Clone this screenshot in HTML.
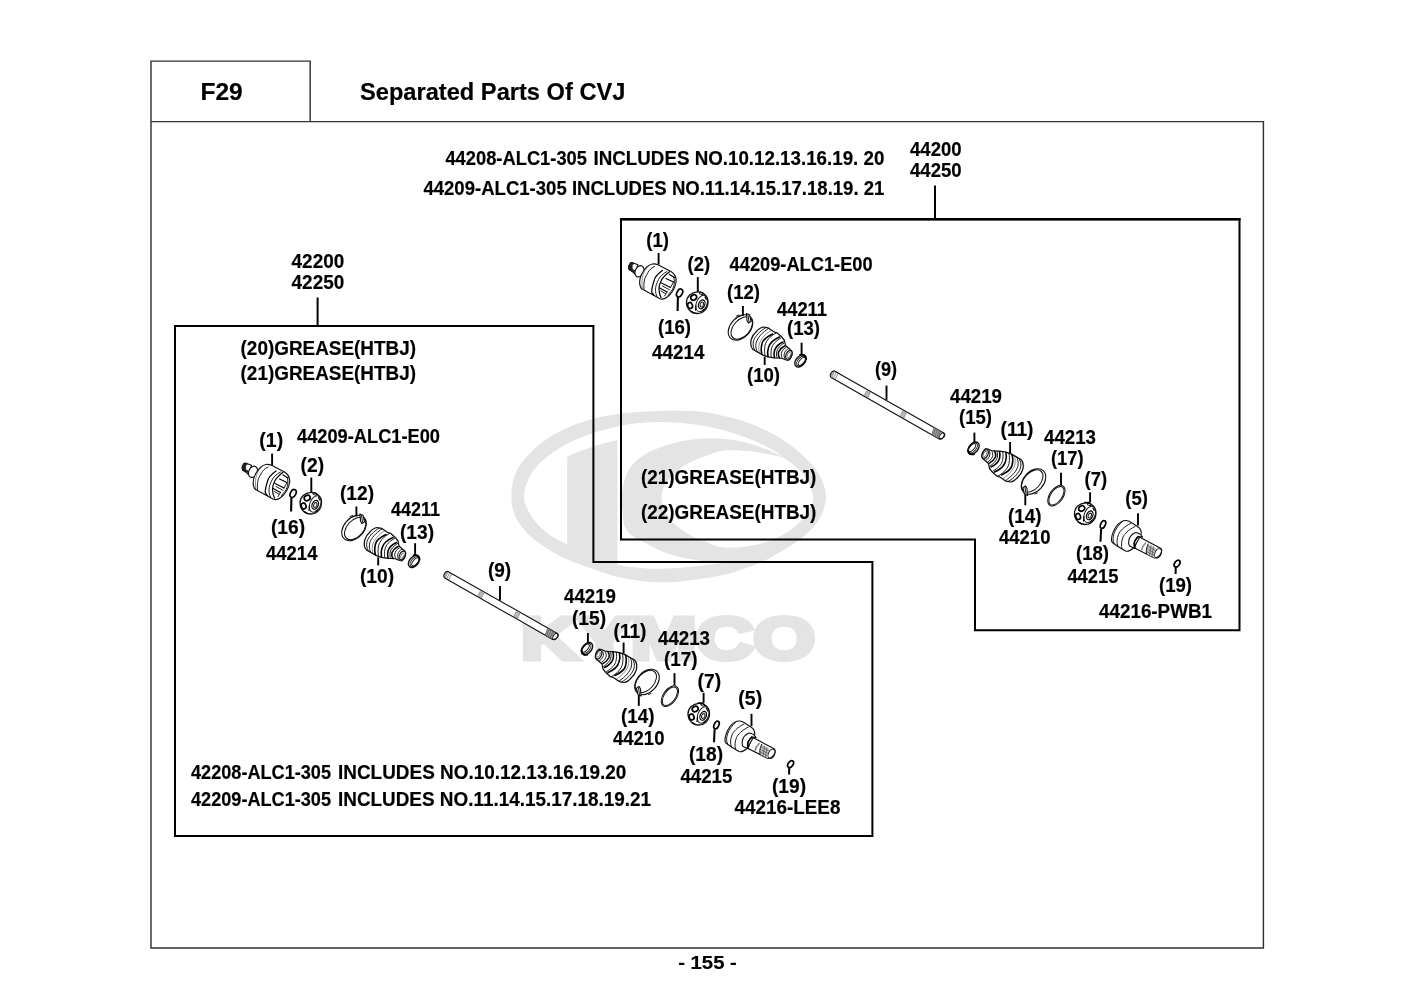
<!DOCTYPE html>
<html lang="en">
<head>
<meta charset="utf-8">
<title>F29 Separated Parts Of CVJ</title>
<style>
html,body{margin:0;padding:0;background:#fff;}
body{width:1415px;height:1000px;overflow:hidden;}
svg{display:block;}
text{font-family:"Liberation Sans",Arial,Helvetica,sans-serif;font-weight:bold;fill:#000;stroke:#000;stroke-width:0.18px;}
.frame{fill:none;stroke:#333;stroke-width:1.45;}
.box{fill:none;stroke:#000;stroke-linejoin:miter;}
.tk line{stroke:#000;}
.p{fill:#fff;stroke:#111;stroke-width:1.15;stroke-linejoin:round;stroke-linecap:round;}
.l{fill:none;stroke:#111;stroke-width:0.95;stroke-linejoin:round;stroke-linecap:round;}
.h{fill:none;stroke:#000;stroke-width:1.2;stroke-linejoin:round;stroke-linecap:round;}
.hh{fill:none;stroke:#000;stroke-width:1.6;stroke-linejoin:round;stroke-linecap:round;}
.t{fill:none;stroke:#333;stroke-width:0.55;stroke-linecap:round;}
.d{fill:#222;stroke:#111;stroke-width:0.8;}
.g{fill:#bbb;stroke:#666;stroke-width:0.5;}
</style>
</head>
<body>
<svg width="1415" height="1000" viewBox="0 0 1415 1000">
<rect width="1415" height="1000" fill="#fff"/>
<!-- KYMCO watermark -->
<g fill="#e4e4e4" stroke="none">
<path fill-rule="evenodd" d="M511.4 497.0C511.5 492.0 511.7 485.0 513.5 479.2C515.3 473.4 517.5 468.1 522.0 462.2C526.5 456.3 533.7 449.1 540.3 443.8C546.9 438.5 553.2 434.4 561.5 430.4C569.8 426.4 580.4 422.5 589.8 419.8C599.2 417.1 608.6 415.5 618.0 414.1C627.4 412.7 636.9 412.2 646.3 411.6C655.7 411.1 664.8 410.7 674.6 410.8C684.4 410.9 694.3 410.7 705.0 412.2C715.7 413.7 728.5 416.6 738.9 419.8C749.3 423.0 759.0 427.1 767.2 431.1C775.5 435.1 782.5 439.8 788.4 443.8C794.3 447.8 797.8 450.6 802.5 455.1C807.2 459.6 813.2 465.8 816.7 470.7C820.2 475.6 822.2 480.4 823.7 484.8C825.2 489.2 825.9 492.9 825.9 497.0C825.9 501.1 825.2 504.7 823.7 509.1C822.2 513.5 820.2 518.6 816.7 523.3C813.2 528.0 808.4 532.7 802.5 537.4C796.6 542.1 788.4 547.3 781.3 551.5C774.2 555.7 768.3 559.3 760.1 562.8C751.9 566.3 741.3 570.1 731.9 572.7C722.5 575.3 713.0 577.1 703.6 578.6C694.2 580.1 684.5 581.4 675.3 581.9C666.1 582.4 657.5 582.4 648.3 581.7C639.1 581.0 627.4 579.1 620.0 577.6C612.6 576.1 611.3 575.2 603.9 572.7C596.5 570.2 583.9 566.1 575.7 562.8C567.5 559.5 561.6 557.0 554.5 553.0C547.4 549.0 539.2 543.8 533.3 538.8C527.4 533.8 522.5 528.2 519.1 523.3C515.7 518.3 514.1 513.5 512.8 509.1C511.5 504.7 511.3 502.0 511.4 497.0ZM782.8 457.2C781.4 456.1 779.2 453.7 774.3 450.9C769.3 448.1 761.4 443.7 753.1 440.3C744.9 436.9 734.2 433.0 724.8 430.4C715.4 427.8 705.9 426.1 696.5 424.7C687.1 423.3 676.7 422.5 668.3 422.2C659.9 421.9 654.0 422.1 646.3 422.6C638.6 423.1 631.2 423.6 622.3 425.4C613.3 427.2 601.5 430.2 592.6 433.2C583.7 436.1 576.1 439.2 568.6 443.1C561.1 447.0 553.3 451.9 547.4 456.5C541.5 461.1 536.8 466.0 533.3 470.7C529.8 475.4 527.8 480.4 526.2 484.8C524.7 489.2 524.0 493.4 524.0 497.0C524.0 500.6 524.7 502.6 526.2 506.3C527.8 510.0 529.8 514.5 533.3 519.0C536.8 523.5 541.8 529.0 547.4 533.2C553.0 537.5 560.9 541.3 567.2 544.5C573.5 547.7 579.5 550.2 585.0 552.5C590.5 554.8 594.2 556.4 600.0 558.5C605.8 560.6 612.0 563.6 620.0 565.3C628.0 567.0 638.9 568.1 648.3 568.6C657.7 569.1 667.1 568.7 676.5 568.1C685.9 567.5 696.5 566.2 704.8 565.3C713.0 564.4 722.5 563.0 726.0 562.6C722.5 562.4 711.9 562.1 704.8 561.3C697.7 560.5 690.7 559.4 683.6 557.8C676.5 556.2 669.5 554.3 662.4 551.5C655.3 548.7 646.6 543.7 641.2 540.8C635.8 537.9 632.8 536.6 630.0 534.0C627.2 531.4 625.4 528.7 624.2 525.0C623.0 521.3 623.0 516.7 622.6 512.0C622.2 507.3 621.5 502.3 621.8 497.0C622.1 491.7 622.8 485.3 624.5 480.0C626.2 474.7 628.6 469.4 632.2 465.0C635.8 460.6 641.7 456.4 646.3 453.5C650.9 450.6 654.0 449.6 660.0 447.5C666.0 445.4 673.9 442.6 682.4 441.0C690.9 439.4 701.3 438.2 710.7 438.2C720.1 438.2 729.5 439.1 738.9 441.0C748.3 442.9 759.9 446.8 767.2 449.5C774.5 452.2 780.2 455.9 782.8 457.2ZM782.8 457.2C784.9 458.7 791.5 462.7 795.5 466.4C799.5 470.1 803.9 474.1 806.8 479.2C809.7 484.3 812.6 492.0 813.1 497.0C813.6 502.0 811.4 505.4 809.6 509.1C807.8 512.8 805.8 515.4 802.5 519.0C799.2 522.6 794.6 527.2 790.0 530.5C785.4 533.8 779.8 536.4 775.0 538.5C770.2 540.6 766.1 542.0 761.3 543.4C756.5 544.8 750.7 545.9 746.0 546.6C741.3 547.3 737.3 547.5 733.0 547.6C728.7 547.7 724.7 548.0 720.0 547.0C715.3 546.0 709.8 543.5 704.8 541.5C699.8 539.5 694.1 537.2 690.0 535.0C685.9 532.8 682.8 530.6 680.0 528.5C677.2 526.4 675.2 524.8 673.0 522.5C670.8 520.2 668.7 517.2 667.0 514.5C665.3 511.8 663.9 508.9 663.0 506.0C662.1 503.1 661.3 500.3 661.5 497.0C661.7 493.7 663.0 488.7 664.0 486.0C665.0 483.3 665.8 483.0 667.5 481.0C669.2 479.0 671.6 476.3 674.0 474.0C676.4 471.7 679.0 469.1 682.0 467.0C685.0 464.9 688.3 463.2 692.0 461.5C695.7 459.8 698.5 458.3 704.0 456.5C709.5 454.7 716.6 451.3 724.8 450.5C733.0 449.7 743.4 450.5 753.1 451.6C762.8 452.7 777.8 456.3 782.8 457.2Z"/>
<path d="M567.2 456.5C583 449.5 600 444 617.4 440.3V566.5L567.2 547Z"/>
<text x="521" y="658.6" font-size="58.5" textLength="294" lengthAdjust="spacingAndGlyphs" style="fill:#e4e4e4;stroke:#e4e4e4;stroke-width:5;stroke-linejoin:miter;">KYMCO</text>
</g>

<!-- page frame -->
<path class="frame" d="M151 948V61.1H310.2V121.6"/>
<path class="frame" d="M151 121.6H1263.4V948H150.3"/>
<!-- left assembly box -->
<path class="box" stroke-width="2" d="M175 326H593.4V562H872.4V836.1H175Z"/>
<!-- right assembly box -->
<path class="box" stroke-width="2" d="M621 219.2H1239.5V630.2H975V539.6H621Z"/>
<path class="box" stroke-width="2.5" d="M619.9 219.2H1240.6"/>
<defs>
<g id="asm">
<!-- joint (1) -->
<g>
  <path class="p" d="M245.5 463L251.5 465.3L248.5 474.5L246.5 472.5L242.5 470C241.5 468 243 463.5 245.5 463Z"/>
  <path class="d" d="M244 463L242 466.5L242.5 470L246.5 472.5L248.7 471.5L245.6 469.5L245.6 465.5L247.5 464Z"/>
  <ellipse class="p" cx="253" cy="471.8" rx="4.2" ry="5.9" transform="rotate(25 253 471.8)"/>
  <path class="p" d="M266 464.5C262 465 258 469.5 255.5 474C253.5 478 252.8 483 253.5 486C254 488 255 489.5 256.5 490L273 499C276 500.5 280 498.5 283 495.5C286 492.5 288.5 488 289.5 483C290.3 478 288.5 474.5 284.5 472L272 465.5C270 464.7 268 464.3 266 464.5Z"/>
  <path class="t" d="M262.5 465.8C259.5 468.5 257.8 471.5 256.8 474.5C255.5 478 255 484 255.8 488.5"/>
  <path class="l" d="M268 467C264.5 468.5 262.5 471 261.5 473C259.5 476.5 258 479 258 480.5C257.3 483 257.3 486 257.5 489.5"/>
  <path class="h" d="M276 471C271 474.5 268 478 267.5 481.5C266 486 265 490 265.3 493L267.5 495.7"/>
  <path class="l" d="M280.5 472C276 474.5 273.5 477 272 480C270 484 269 487 269 490C269 493 269.5 495 270.5 496.8"/>
  <path class="h" d="M283 472.3C279 475.5 276.5 478 275 480.5C273.5 483.5 272.5 486 272.5 489C272.5 493 273 495.5 274.5 498"/>
  <path class="l" d="M287.3 478C288.3 480.5 288 484.5 287 487.5C286 490.5 284 493 281.5 495.3"/>
  <path class="h" d="M283 475L288 478M279.5 479L287 482.5M275 483.5L284 488M273.2 488.5L280.5 492.5"/>
  <path class="l" d="M287 482.5L284 488M280.5 492.5L278 496.5M276 486.5L283 490.3M274.5 491.5L279 494.2"/>
</g>
<!-- pin (16) -->
<g>
  <ellipse cx="293.1" cy="493.5" rx="2.7" ry="4.2" transform="rotate(27 293.1 493.5)" fill="none" stroke="#000" stroke-width="1.7"/>
  <path d="M291.4 497.5L291.1 511.6" fill="none" stroke="#000" stroke-width="2.1"/>
</g>
<!-- cage (2); re-used for (7) -->
<g id="cage">
  <path class="p" style="stroke-width:1.3" d="M311 492.4C316.5 492 321.5 496.5 321.5 502.5C321.5 509 317 514 311 514C305 514 300 509.5 300 503C300 497 305 492.8 311 492.4Z"/>
  <ellipse class="l" cx="315.2" cy="504" rx="5.3" ry="8.6" transform="rotate(24 315.2 504)"/>
  <ellipse class="h" cx="315.2" cy="504.8" rx="3" ry="4.6" transform="rotate(24 315.2 504.8)"/>
  <ellipse class="l" cx="315.3" cy="505" rx="1.5" ry="2.5" transform="rotate(24 315.3 505)"/>
  <ellipse class="h" cx="307.2" cy="498" rx="3.1" ry="2.5" transform="rotate(-30 307.2 498)" style="stroke-width:1.7"/>
  <ellipse class="h" cx="303.6" cy="506" rx="2.4" ry="3" transform="rotate(-20 303.6 506)" style="stroke-width:1.7"/>
  <ellipse class="l" cx="314.8" cy="493.8" rx="2" ry="1.1" transform="rotate(15 314.8 493.8)"/>
  <path class="h" d="M305 512L307.5 513.6M316 511.2L317.6 509.8M309.5 506L309 510.5M318.5 497.5L319.8 500"/>
</g>
<use href="#cage" transform="translate(388,211)"/>
<path d="M703.6 703H697.6" fill="none" stroke="#000" stroke-width="1.4"/>
<!-- clamp (12), boot (10), ring (13): re-used rotated 180deg for (14),(11),(15) -->
<g id="cbr">
  <ellipse class="l" cx="354" cy="528" rx="14.6" ry="10" transform="rotate(-48 354 528)" style="stroke-width:1.1"/>
  <ellipse class="l" cx="355.2" cy="528.5" rx="13.1" ry="8.2" transform="rotate(-48 355.2 528.5)" style="stroke-width:1.05"/>
  <path class="p" d="M359.8 514L363 515.3L364.6 521.8L362 523.6L360.5 521L360.2 516.5Z"/>
  <path class="l" d="M350 516.5L352.5 515.5M361.5 515.5L362.5 522"/>
  <path class="p" style="stroke-width:1.25" d="M377 527.5L381.5 528.3L388 532.7L390.5 533.3L395 537.2L398 541L399 546L405 551.2C406.5 553 405.5 558.5 402 560.8L399.5 560.5L396 559L393 558.5L388 558.3L381.5 557.3L376.5 555.6L366.5 550C364.5 548 363.8 544 364.75 540C365.8 536.5 367.5 534 369.5 532.5C372 529.5 374.5 527.8 377 527.5Z"/>
  <path class="l" d="M379.5 528C373 531.5 368.5 537 367 541.5C366 545.5 367 549 368.5 551"/>
  <path class="l" d="M382 529C375.5 533 371 538.5 369.7 543C368.8 547 369.5 550.5 371 552.5"/>
  <path class="t" d="M384.5 531C378.5 534.5 374 540 372.7 544.5C371.8 548.5 372.3 552 373.2 554"/>
  <path class="hh" d="M386 534.5C380 537.5 376 541 375.5 544C374.5 548 374.5 552 375.5 555"/>
  <path class="l" d="M389.5 533.5C383 537 379.5 541.5 378.5 546C377.8 550 378 553.5 378.5 556.3"/>
  <path class="hh" d="M393 537.5C387 540 383 544.5 382 548C381 551 381 554.5 381.5 557"/>
  <path class="l" d="M394.5 538.5C389 541.5 386 545 385 549C384.3 552 384.3 555 384.8 557.8"/>
  <path class="hh" d="M396.5 542.5C392 544.5 389 548 388 551C387.3 553.5 387.5 556 388 558"/>
  <path class="l" d="M397.5 543.5C393.5 546 391 549 390.2 552C389.8 554.5 390 556.8 390.5 558.5"/>
  <path class="hh" d="M398 546.5C395 548 393 550.5 392 552.5C391.5 554.5 392 557 393 558.5"/>
  <path class="l" d="M399.5 547.8C396.5 549.5 395 552 394.8 554C394.6 556 395.2 558 396 559"/>
  <path class="l" d="M401.5 549.2C398.5 551 397.3 554 397.6 556.5C397.8 558 398.5 559.5 399.5 560.3"/>
  <ellipse class="p" cx="402.3" cy="555.4" rx="2.7" ry="4.5" transform="rotate(25 402.3 555.4)"/>
  <ellipse class="t" cx="402.5" cy="555.6" rx="1.5" ry="2.9" transform="rotate(25 402.5 555.6)"/>
  <ellipse class="p" cx="414" cy="561.4" rx="7" ry="4.5" transform="rotate(-50 414 561.4)" style="stroke-width:1.4"/>
  <ellipse class="l" cx="414.7" cy="561.7" rx="5.9" ry="3.4" transform="rotate(-50 414.7 561.7)"/>
  <ellipse class="l" cx="415.3" cy="561.9" rx="4.8" ry="2.2" transform="rotate(-50 415.3 561.9)"/>
  <path class="hh" d="M413.5 555.3C416.5 554.5 419.3 556 419.6 559.5"/>
</g>
<use href="#cbr" transform="rotate(180 500.5 605)"/>
<!-- shaft (9) -->
<g>
  <path class="p" d="M447.9 571.4L557.3 633.4C559.6 635.2 557.3 639.8 552.7 639.4L444.7 577.9C442.4 576 445.2 571 447.9 571.4Z"/>
  <ellipse class="l" cx="555.2" cy="636.5" rx="2" ry="3.5" transform="rotate(30 555.2 636.5)"/>
  <path class="t" d="M449.8 572.5L446.8 578.8M451.6 573.4L448.8 579.8M448 571.8L445.4 577.8M446.4 572.4L444.6 576.5"/>
  <path class="g" d="M479.9 591.5L483.8 593.3L481.5 597.9L477.8 595.8Z"/>
  <path class="g" d="M515.9 611.7L519.8 613.7L517.6 618.3L513.9 616.1Z"/>
  <path class="d" d="M547.6 628.2L554 631.9L551.9 638.7L545.3 635.3Z" style="fill:#a5a5a5;stroke:#555"/>
  <path class="t" d="M549 629.3L546.7 635.7M550.8 630.4L548.5 636.8M552.7 631.3L550.4 637.8"/>
</g>
<!-- ring (17) -->
<g>
  <ellipse class="l" cx="669.9" cy="696.2" rx="11.7" ry="6.7" transform="rotate(-55 669.9 696.2)"/>
  <ellipse class="l" cx="669.9" cy="696.2" rx="10.6" ry="5.6" transform="rotate(-55 669.9 696.2)"/>
</g>
<!-- pin (18) -->
<g>
  <ellipse cx="716.5" cy="725.0" rx="2.3" ry="4.1" transform="rotate(24 716.5 725.0)" fill="none" stroke="#000" stroke-width="1.7"/>
  <path d="M714.6 729.4L714.0 742.2" fill="none" stroke="#000" stroke-width="2"/>
</g>
<!-- joint (5) -->
<g>
  <path class="p" d="M752 737L774.5 749C776 751 775 757 768 758.5L748 748.5Z"/>
  <ellipse class="l" cx="771.5" cy="753.9" rx="3.1" ry="5" transform="rotate(25 771.5 753.9)"/>
  <path d="M762 744.6C760 748.5 759.6 751.5 760.3 754.6L768.5 758.6C767 755.5 767.5 751.5 769.8 748.8Z" fill="#c4c4c4" stroke="none"/>
  <path class="t" d="M761 746.8L769.5 751.2M760.2 749.3L768.6 753.8M760 751.8L768.2 756.2M764.5 746L763 755.8M767 747.3L765.5 757"/>
  <path class="l" d="M761.7 744.4C759.6 749 759.4 751 760.1 754.4"/>
  <path d="M759.5 743C756.5 746 755.3 748.5 755 750.8" fill="none" stroke="#888" stroke-width="1.6"/>
  <path class="p" d="M740 721C737 720.8 733.5 722 730 726.5C727 731 725.3 736 725 739C724.8 741.5 725.5 743 726.5 743.5L731.5 747L739 751.5C741 752.2 743.5 751.5 747 748.5L754.5 735.5C755.3 732 754 729 751 727L745.5 723.5C743.5 722 742 721.2 740 721Z"/>
  <path class="l" d="M736.5 721.5C732 725 729 730 727.5 734C726.3 738 726.2 741 727.5 743.8"/>
  <path class="l" d="M744 724C737 727.5 733.5 731.5 732 735C730.5 739 729.8 743 731.5 747"/>
  <path class="l" d="M748.5 727C741.5 730.5 738 734.5 736.5 737.5C735 741.5 734.5 746 735.5 749.5"/>
  <path class="p" d="M749.5 733C746 734 743.5 737.5 743 738.5C742 741.5 741.8 744.5 743 746.5L747 748.3L748.2 748.4C747.3 744.5 748 741.5 749 740.5C750 738.5 751 737.5 752 737L756 737.6C754.5 735 752 733.2 749.5 733Z"/>
  <path class="hh" d="M752 737C751 737.5 750 738.5 749 740.5C748 741.5 747.3 744.5 748.2 748.4"/>
</g>
<!-- pin (19) -->
<g>
  <ellipse cx="790.6" cy="764.1" rx="2.4" ry="3.8" transform="rotate(35 790.6 764.1)" fill="none" stroke="#000" stroke-width="1.7"/>
  <path d="M789.2 768L789.1 774.4" fill="none" stroke="#000" stroke-width="2"/>
</g>

</g>
</defs>
<use href="#asm"/>
<use href="#asm" transform="translate(386.5,-200.5)"/>
<g class="tk">
<line x1="935.0" y1="185.6" x2="935.0" y2="219.0" stroke-width="2"/>
<line x1="317.6" y1="297.5" x2="317.6" y2="326.0" stroke-width="2"/>
<line x1="272.1" y1="453.6" x2="272.1" y2="465.0" stroke-width="1.9"/>
<line x1="311.3" y1="477.6" x2="311.3" y2="492.4" stroke-width="1.9"/>
<line x1="356.4" y1="506.5" x2="356.4" y2="516.5" stroke-width="1.9"/>
<line x1="415.1" y1="543.2" x2="415.1" y2="556.0" stroke-width="1.9"/>
<line x1="378.2" y1="557.3" x2="378.2" y2="565.4" stroke-width="1.9"/>
<line x1="500.0" y1="586.1" x2="500.0" y2="600.4" stroke-width="1.9"/>
<line x1="587.9" y1="633.1" x2="587.9" y2="643.0" stroke-width="1.9"/>
<line x1="623.6" y1="642.5" x2="623.6" y2="653.6" stroke-width="1.9"/>
<line x1="674.5" y1="673.2" x2="674.5" y2="685.5" stroke-width="1.9"/>
<line x1="638.8" y1="695.2" x2="638.8" y2="705.8" stroke-width="1.9"/>
<line x1="703.6" y1="692.8" x2="703.6" y2="702.8" stroke-width="1.9"/>
<line x1="751.5" y1="713.8" x2="751.5" y2="726.0" stroke-width="1.9"/>
<line x1="658.6" y1="253.1" x2="658.6" y2="264.5" stroke-width="1.9"/>
<line x1="697.8" y1="277.1" x2="697.8" y2="291.9" stroke-width="1.9"/>
<line x1="742.9" y1="306.0" x2="742.9" y2="316.0" stroke-width="1.9"/>
<line x1="801.6" y1="342.7" x2="801.6" y2="355.5" stroke-width="1.9"/>
<line x1="764.7" y1="356.8" x2="764.7" y2="364.9" stroke-width="1.9"/>
<line x1="886.5" y1="385.6" x2="886.5" y2="399.9" stroke-width="1.9"/>
<line x1="974.4" y1="432.6" x2="974.4" y2="442.5" stroke-width="1.9"/>
<line x1="1010.1" y1="442.0" x2="1010.1" y2="453.1" stroke-width="1.9"/>
<line x1="1061.0" y1="472.7" x2="1061.0" y2="485.0" stroke-width="1.9"/>
<line x1="1025.3" y1="494.7" x2="1025.3" y2="505.3" stroke-width="1.9"/>
<line x1="1090.1" y1="492.3" x2="1090.1" y2="502.3" stroke-width="1.9"/>
<line x1="1138.0" y1="513.3" x2="1138.0" y2="525.5" stroke-width="1.9"/>
</g>
<g>
<text x="200.46" y="99.9" font-size="23.5" textLength="42.19" lengthAdjust="spacingAndGlyphs">F29</text>
<text x="359.99" y="99.8" font-size="23.6" textLength="265.43" lengthAdjust="spacingAndGlyphs">Separated Parts Of CVJ</text>
<text x="678.19" y="969.0" font-size="19.2" textLength="58.63" lengthAdjust="spacingAndGlyphs">- 155 -</text>
<text x="445.40" y="165.0" font-size="19.4" textLength="141.61" lengthAdjust="spacingAndGlyphs">44208-ALC1-305</text>
<text x="593.59" y="165.0" font-size="19.4" textLength="290.81" lengthAdjust="spacingAndGlyphs">INCLUDES NO.10.12.13.16.19. 20</text>
<text x="423.40" y="195.2" font-size="19.4" textLength="461.00" lengthAdjust="spacingAndGlyphs">44209-ALC1-305 INCLUDES NO.11.14.15.17.18.19. 21</text>
<text x="910.00" y="155.8" font-size="19.4" textLength="51.62" lengthAdjust="spacingAndGlyphs">44200</text>
<text x="910.00" y="176.8" font-size="19.4" textLength="51.62" lengthAdjust="spacingAndGlyphs">44250</text>
<text x="291.60" y="268.0" font-size="19.4" textLength="52.62" lengthAdjust="spacingAndGlyphs">42200</text>
<text x="291.60" y="289.3" font-size="19.4" textLength="52.62" lengthAdjust="spacingAndGlyphs">42250</text>
<text x="240.59" y="355.1" font-size="19.4" textLength="175.42" lengthAdjust="spacingAndGlyphs">(20)GREASE(HTBJ)</text>
<text x="240.59" y="380.4" font-size="19.4" textLength="175.42" lengthAdjust="spacingAndGlyphs">(21)GREASE(HTBJ)</text>
<text x="640.99" y="483.9" font-size="19.4" textLength="175.42" lengthAdjust="spacingAndGlyphs">(21)GREASE(HTBJ)</text>
<text x="640.99" y="519.2" font-size="19.4" textLength="175.42" lengthAdjust="spacingAndGlyphs">(22)GREASE(HTBJ)</text>
<text x="191.00" y="778.6" font-size="19.4" textLength="140.00" lengthAdjust="spacingAndGlyphs">42208-ALC1-305</text>
<text x="337.99" y="778.6" font-size="19.4" textLength="288.41" lengthAdjust="spacingAndGlyphs">INCLUDES NO.10.12.13.16.19.20</text>
<text x="191.00" y="806.2" font-size="19.4" textLength="140.00" lengthAdjust="spacingAndGlyphs">42209-ALC1-305</text>
<text x="337.99" y="806.2" font-size="19.4" textLength="313.02" lengthAdjust="spacingAndGlyphs">INCLUDES NO.11.14.15.17.18.19.21</text>
<text x="297.00" y="443.2" font-size="19.4" textLength="143.01" lengthAdjust="spacingAndGlyphs">44209-ALC1-E00</text>
<text x="729.60" y="271.3" font-size="19.4" textLength="143.01" lengthAdjust="spacingAndGlyphs">44209-ALC1-E00</text>
<text x="734.60" y="814.0" font-size="19.4" textLength="105.81" lengthAdjust="spacingAndGlyphs">44216-LEE8</text>
<text x="1099.00" y="617.5" font-size="19.4" textLength="113.01" lengthAdjust="spacingAndGlyphs">44216-PWB1</text>
<text x="259.33" y="446.9" font-size="19.4" textLength="23.78" lengthAdjust="spacingAndGlyphs">(1)</text>
<text x="300.53" y="472.1" font-size="19.4" textLength="23.56" lengthAdjust="spacingAndGlyphs">(2)</text>
<text x="270.93" y="534.3" font-size="19.4" textLength="34.13" lengthAdjust="spacingAndGlyphs">(16)</text>
<text x="266.00" y="560.3" font-size="19.4" textLength="51.41" lengthAdjust="spacingAndGlyphs">44214</text>
<text x="339.93" y="499.9" font-size="19.4" textLength="34.13" lengthAdjust="spacingAndGlyphs">(12)</text>
<text x="391.00" y="516.3" font-size="19.4" textLength="49.00" lengthAdjust="spacingAndGlyphs">44211</text>
<text x="399.93" y="539.1" font-size="19.4" textLength="34.13" lengthAdjust="spacingAndGlyphs">(13)</text>
<text x="359.93" y="583.1" font-size="19.4" textLength="34.13" lengthAdjust="spacingAndGlyphs">(10)</text>
<text x="487.89" y="577.3" font-size="19.4" textLength="23.21" lengthAdjust="spacingAndGlyphs">(9)</text>
<text x="564.00" y="603.3" font-size="19.4" textLength="52.02" lengthAdjust="spacingAndGlyphs">44219</text>
<text x="571.93" y="625.3" font-size="19.4" textLength="34.13" lengthAdjust="spacingAndGlyphs">(15)</text>
<text x="613.55" y="638.3" font-size="19.4" textLength="32.90" lengthAdjust="spacingAndGlyphs">(11)</text>
<text x="658.00" y="644.5" font-size="19.4" textLength="52.02" lengthAdjust="spacingAndGlyphs">44213</text>
<text x="663.93" y="665.9" font-size="19.4" textLength="33.72" lengthAdjust="spacingAndGlyphs">(17)</text>
<text x="620.94" y="723.3" font-size="19.4" textLength="33.51" lengthAdjust="spacingAndGlyphs">(14)</text>
<text x="613.00" y="744.5" font-size="19.4" textLength="51.42" lengthAdjust="spacingAndGlyphs">44210</text>
<text x="697.53" y="687.9" font-size="19.4" textLength="23.56" lengthAdjust="spacingAndGlyphs">(7)</text>
<text x="738.33" y="704.9" font-size="19.4" textLength="23.78" lengthAdjust="spacingAndGlyphs">(5)</text>
<text x="688.93" y="760.9" font-size="19.4" textLength="34.13" lengthAdjust="spacingAndGlyphs">(18)</text>
<text x="680.38" y="783.3" font-size="19.4" textLength="52.04" lengthAdjust="spacingAndGlyphs">44215</text>
<text x="771.93" y="792.7" font-size="19.4" textLength="34.13" lengthAdjust="spacingAndGlyphs">(19)</text>
<text x="646.34" y="247.0" font-size="19.4" textLength="22.70" lengthAdjust="spacingAndGlyphs">(1)</text>
<text x="687.50" y="270.6" font-size="19.4" textLength="22.53" lengthAdjust="spacingAndGlyphs">(2)</text>
<text x="657.97" y="333.8" font-size="19.4" textLength="33.06" lengthAdjust="spacingAndGlyphs">(16)</text>
<text x="651.99" y="359.2" font-size="19.4" textLength="52.41" lengthAdjust="spacingAndGlyphs">44214</text>
<text x="726.97" y="299.4" font-size="19.4" textLength="33.06" lengthAdjust="spacingAndGlyphs">(12)</text>
<text x="776.99" y="315.8" font-size="19.4" textLength="50.02" lengthAdjust="spacingAndGlyphs">44211</text>
<text x="786.97" y="335.4" font-size="19.4" textLength="33.06" lengthAdjust="spacingAndGlyphs">(13)</text>
<text x="746.97" y="381.6" font-size="19.4" textLength="33.06" lengthAdjust="spacingAndGlyphs">(10)</text>
<text x="874.95" y="375.8" font-size="19.4" textLength="22.10" lengthAdjust="spacingAndGlyphs">(9)</text>
<text x="949.99" y="402.8" font-size="19.4" textLength="52.02" lengthAdjust="spacingAndGlyphs">44219</text>
<text x="958.97" y="423.8" font-size="19.4" textLength="33.06" lengthAdjust="spacingAndGlyphs">(15)</text>
<text x="1000.52" y="436.4" font-size="19.4" textLength="32.94" lengthAdjust="spacingAndGlyphs">(11)</text>
<text x="1043.99" y="444.0" font-size="19.4" textLength="52.02" lengthAdjust="spacingAndGlyphs">44213</text>
<text x="1050.97" y="464.6" font-size="19.4" textLength="32.67" lengthAdjust="spacingAndGlyphs">(17)</text>
<text x="1007.96" y="522.8" font-size="19.4" textLength="33.51" lengthAdjust="spacingAndGlyphs">(14)</text>
<text x="998.99" y="544.0" font-size="19.4" textLength="51.44" lengthAdjust="spacingAndGlyphs">44210</text>
<text x="1084.50" y="486.4" font-size="19.4" textLength="22.53" lengthAdjust="spacingAndGlyphs">(7)</text>
<text x="1125.34" y="505.2" font-size="19.4" textLength="22.70" lengthAdjust="spacingAndGlyphs">(5)</text>
<text x="1075.97" y="560.4" font-size="19.4" textLength="33.06" lengthAdjust="spacingAndGlyphs">(18)</text>
<text x="1067.40" y="582.8" font-size="19.4" textLength="51.00" lengthAdjust="spacingAndGlyphs">44215</text>
<text x="1158.97" y="592.2" font-size="19.4" textLength="33.06" lengthAdjust="spacingAndGlyphs">(19)</text>
</g>
</svg>
</body>
</html>
